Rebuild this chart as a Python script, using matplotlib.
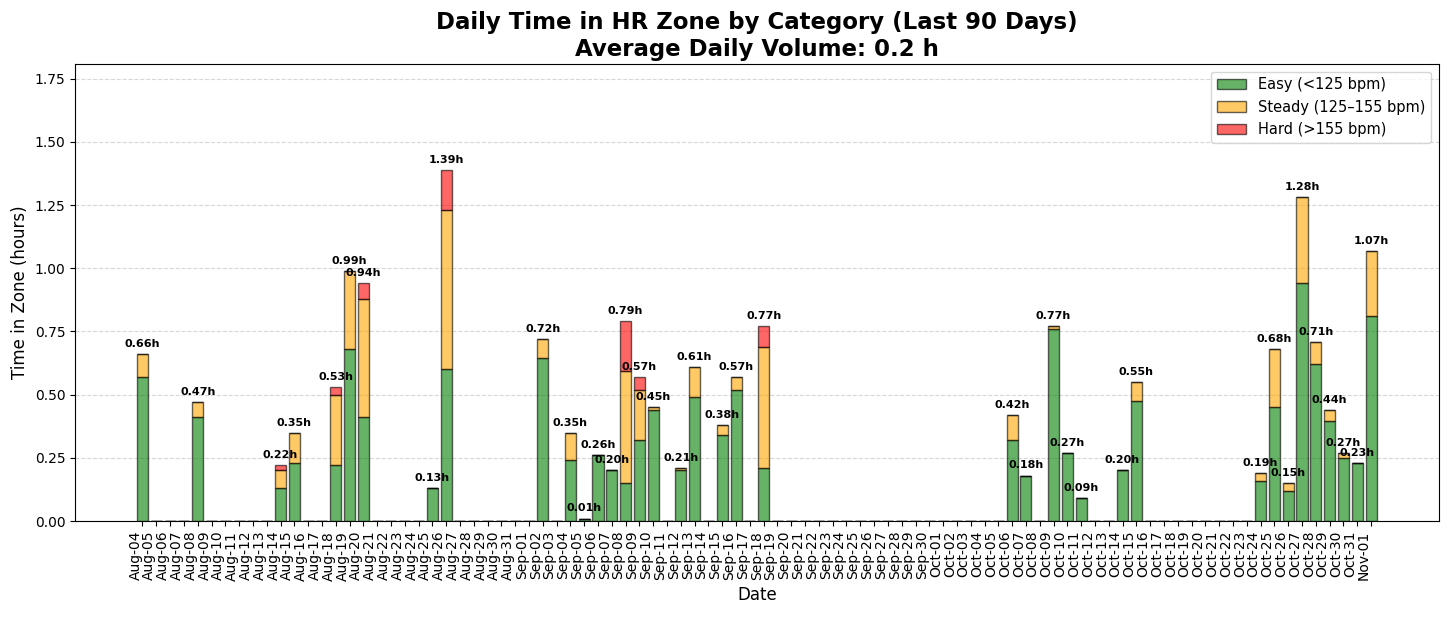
import matplotlib
matplotlib.use("Agg")
import matplotlib.pyplot as plt
import numpy as np
import pandas as pd

# 90-day window
days = pd.date_range("2024-08-04", "2024-11-01", freq="D")
day_labels = [d.strftime("%b-%d") for d in days]

# days with activity and time per zone (hours)
active_days = ["Aug-04", "Aug-08", "Aug-14", "Aug-15", "Aug-18", "Aug-19", "Aug-20",
               "Aug-25", "Aug-26", "Sep-02", "Sep-04", "Sep-05", "Sep-06", "Sep-07",
               "Sep-08", "Sep-09", "Sep-10", "Sep-12", "Sep-13", "Sep-15", "Sep-16",
               "Sep-18", "Oct-06", "Oct-07", "Oct-09", "Oct-10", "Oct-11", "Oct-14",
               "Oct-15", "Oct-24", "Oct-25", "Oct-26", "Oct-27", "Oct-28", "Oct-29",
               "Oct-30", "Oct-31", "Nov-01"]
easy_h = [0.57, 0.41, 0.13, 0.23, 0.22, 0.68, 0.41,
          0.13, 0.60, 0.645, 0.24, 0.01, 0.26, 0.20,
          0.15, 0.32, 0.44, 0.20, 0.49, 0.34, 0.52,
          0.21, 0.32, 0.18, 0.76, 0.27, 0.09, 0.20,
          0.475, 0.16, 0.45, 0.12, 0.94, 0.62, 0.395,
          0.25, 0.23, 0.81]
steady_h = [0.09, 0.06, 0.07, 0.12, 0.28, 0.31, 0.47,
            0.0, 0.63, 0.075, 0.11, 0.0, 0.0, 0.0,
            0.445, 0.20, 0.01, 0.01, 0.12, 0.04, 0.05,
            0.48, 0.10, 0.0, 0.01, 0.0, 0.0, 0.0,
            0.075, 0.03, 0.23, 0.03, 0.34, 0.09, 0.045,
            0.02, 0.0, 0.26]
hard_h = [0.0, 0.0, 0.02, 0.0, 0.03, 0.0, 0.06,
          0.0, 0.16, 0.0, 0.0, 0.0, 0.0, 0.0,
          0.195, 0.05, 0.0, 0.0, 0.0, 0.0, 0.0,
          0.08, 0.0, 0.0, 0.0, 0.0, 0.0, 0.0,
          0.0, 0.0, 0.0, 0.0, 0.0, 0.0, 0.0,
          0.0, 0.0, 0.0]

df = pd.DataFrame(0.0, index=day_labels, columns=["easy", "steady", "hard"])
for d, e, s, h in zip(active_days, easy_h, steady_h, hard_h):
    df.loc[d] = [e, s, h]
total = df.sum(axis=1)
avg = total.mean()

x = np.arange(len(df))
fig, ax = plt.subplots(figsize=(14.56, 6.24), dpi=100)
kw = dict(width=0.8, edgecolor="black", alpha=0.6)
ax.bar(x, df["easy"], color="green", label="Easy (<125 bpm)", **kw)
ax.bar(x, df["steady"], bottom=df["easy"], color="orange", label="Steady (125–155 bpm)", **kw)
ax.bar(x, df["hard"], bottom=df["easy"] + df["steady"], color="red", label="Hard (>155 bpm)", **kw)

for i, t in enumerate(total):
    if t > 0:
        ax.text(i, t + 0.02, f"{t:.2f}h", ha="center", va="bottom", fontsize=8, fontweight="bold")

ax.set_xticks(x)
ax.set_xticklabels(day_labels, rotation=90, ha="right", fontsize=10)
ax.set_ylim(0, total.max() * 1.3)
ax.grid(axis="y", linestyle="--", alpha=0.5)
ax.set_axisbelow(True)
ax.set_xlabel("Date", fontsize=12)
ax.set_ylabel("Time in Zone (hours)", fontsize=12)
ax.set_title(f"Daily Time in HR Zone by Category (Last 90 Days)\nAverage Daily Volume: {avg:.1f} h",
             fontsize=16.5, fontweight="bold")
ax.legend(loc="upper right", fontsize=10.5)

plt.subplots_adjust(left=0.0515, right=0.988, top=0.897, bottom=0.165)
plt.savefig("out.png")
